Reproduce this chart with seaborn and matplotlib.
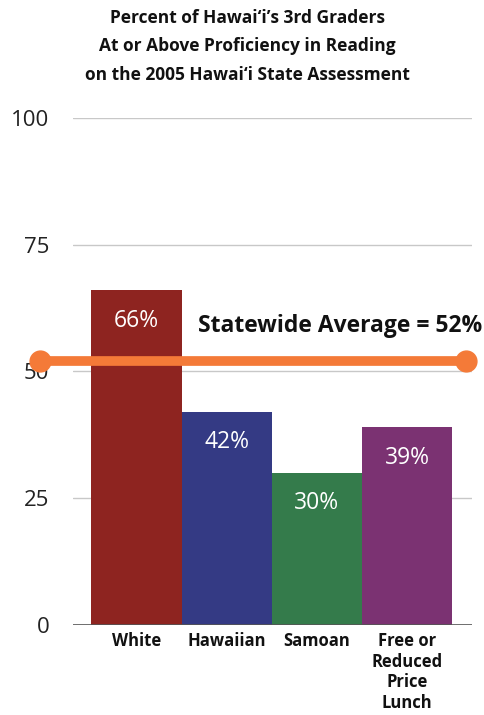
import numpy as np
import pandas as pd
import matplotlib
matplotlib.use("Agg")
import matplotlib.pyplot as plt
import seaborn as sns

# data
groups = ["White", "Hawaiian", "Samoan", "Free or\nReduced\nPrice\nLunch"]
percents = [66, 42, 30, 39]
bar_colors = ["#8E2420", "#343A84", "#347B4B", "#7B3272"]
state_avg = 52
yticks = [0, 25, 50, 75, 100]
title = ("Percent of Hawai\u2018i\u2019s 3rd Graders\n"
         "At or Above Proficiency in Reading\n"
         "on the 2005 Hawai\u2018i State Assessment")

sns.set_theme(style="white")
plt.rcParams['font.family'] = ['Open Sans', 'DejaVu Sans']

df = pd.DataFrame({"group": groups, "pct": percents})

fig = plt.figure(figsize=(4.85, 7.15), dpi=100)
ax = fig.add_axes([0.1505, 0.126, 0.8225, 0.709])

for y in yticks[1:]:
    ax.axhline(y, color="#C8C8C8", lw=1, zorder=0)
ax.axhline(0, color="#555555", lw=1.2, zorder=3)

sns.barplot(data=df, x="group", y="pct", hue="group", palette=bar_colors,
            width=1.0, saturation=1, legend=False, linewidth=0, ax=ax, zorder=2)

for i, v in enumerate(percents):
    ax.text(i, v - 6, "{}%".format(v), ha="center", va="center",
            color="white", fontsize=16.5, fontweight="medium", zorder=5)

# statewide average line with round ends
ax.plot([-1.07, 3.65], [state_avg, state_avg], color="#F47A38", lw=7,
        solid_capstyle="butt", clip_on=False, zorder=4)
ax.plot([-1.07, 3.65], [state_avg, state_avg], "o", color="#F47A38",
        ms=15, clip_on=False, zorder=4)
ax.text(3.84, state_avg + 7, "Statewide Average = {}%".format(state_avg),
        ha="right", va="center", fontsize=16.5, fontweight="bold",
        color="#111111", zorder=5, clip_on=False)

ax.set_xlim(-0.705, 3.72)
ax.set_ylim(0, 100)
ax.set_yticks(yticks)
ax.set_yticklabels([str(t) for t in yticks], fontsize=16, color="#222222")
ax.tick_params(axis="y", pad=17, length=0)
ax.tick_params(axis="x", pad=5, length=0)
ax.set_xticks(range(len(groups)))
ax.set_xticklabels(groups, fontsize=12, fontweight="bold", color="#111111",
                   linespacing=1.2, va="top")
ax.set_xlabel("")
ax.set_ylabel("")
for s in ax.spines.values():
    s.set_visible(False)

fig.text(0.51, 0.988, title, ha="center", va="top", fontsize=12.5,
         fontweight="bold", color="#111111", linespacing=1.75)

fig.savefig("out.png", dpi=100)
